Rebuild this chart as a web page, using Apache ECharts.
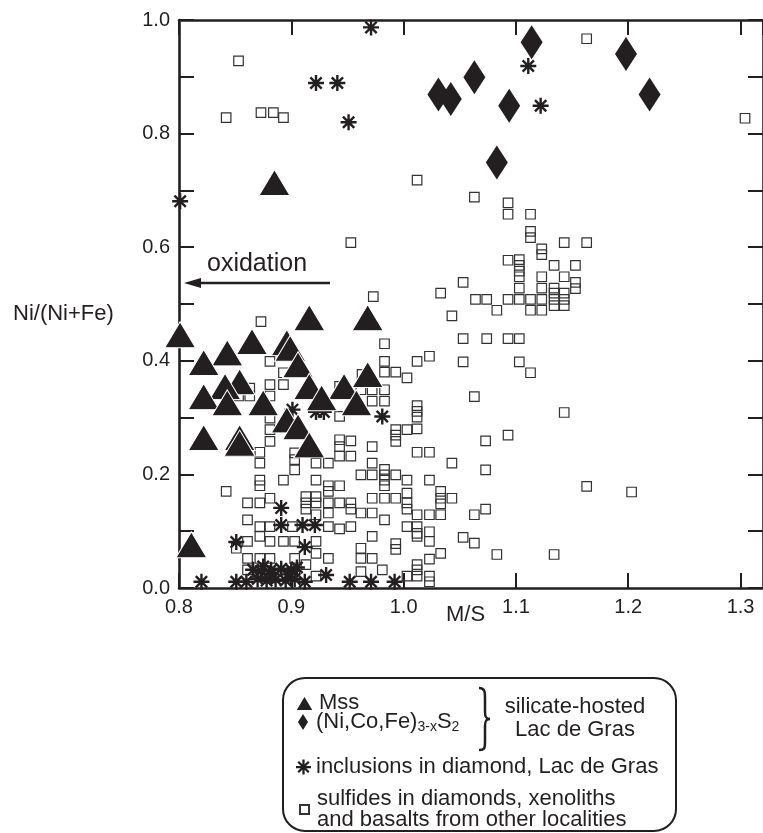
<!DOCTYPE html>
<html>
<head>
<meta charset="utf-8">
<script src="https://cdn.jsdelivr.net/npm/echarts@6/dist/echarts.min.js"></script>
<style>html,body{margin:0;padding:0;background:#fff}#c{width:763px;height:833px}</style>
</head>
<body>
<div id="c"></div>
<script>
var FONT = 'Liberation Sans, Arial, Helvetica, sans-serif';
var INK = '#231f20';

// M/S (x), Ni/(Ni+Fe) (y)
var mssPoints = [
  [0.916,0.476],[0.968,0.476],[0.801,0.446],[0.865,0.434],[0.896,0.432],[0.899,0.422],
  [0.843,0.414],[0.822,0.397],[0.906,0.393],[0.968,0.376],[0.854,0.363],[0.841,0.355],
  [0.916,0.355],[0.947,0.355],[0.822,0.337],[0.927,0.335],[0.843,0.326],[0.875,0.326],
  [0.958,0.326],[0.896,0.296],[0.906,0.284],[0.822,0.265],[0.854,0.265],[0.854,0.255],
  [0.916,0.252],[0.811,0.076],[0.885,0.714]
];
var nicofePoints = [
  [1.031,0.869],[1.042,0.861],[1.063,0.899],[1.114,0.961],[1.094,0.849],
  [1.083,0.749],[1.198,0.940],[1.219,0.869]
];
var inclusionPoints = [
  [0.971,0.987],[0.922,0.889],[0.941,0.889],[0.951,0.820],[0.801,0.681],[1.111,0.919],
  [1.122,0.849],[0.901,0.314],[0.922,0.310],[0.929,0.310],[0.981,0.302],[0.891,0.141],
  [0.891,0.111],[0.910,0.111],[0.921,0.111],[0.851,0.081],[0.912,0.072],[0.931,0.023],
  [0.820,0.011],[0.851,0.011],[0.860,0.011],[0.952,0.011],[0.971,0.011],[0.992,0.011],
  [0.866,0.032],[0.873,0.030],[0.882,0.032],[0.891,0.034],[0.900,0.032],[0.870,0.016],
  [0.878,0.013],[0.886,0.015],[0.895,0.013],[0.903,0.016],[0.912,0.011],[0.882,0.024],
  [0.897,0.024],[0.875,0.038],[0.905,0.036]
];
var sulfidePoints = [
  [0.853,0.928],[0.842,0.828],[0.873,0.837],[0.884,0.837],[0.893,0.828],[1.012,0.718],
  [0.953,0.608],[1.163,0.967],[1.304,0.827],[1.063,0.688],[1.093,0.678],[1.093,0.658],
  [1.113,0.658],[1.113,0.628],[1.113,0.617],[1.143,0.608],[1.163,0.608],[1.123,0.597],
  [1.123,0.587],[1.093,0.577],[1.103,0.578],[1.103,0.568],[1.103,0.558],[1.103,0.548],
  [1.134,0.568],[1.153,0.568],[1.123,0.548],[1.143,0.548],[1.153,0.538],[1.153,0.527],
  [1.053,0.538],[1.103,0.528],[1.123,0.528],[1.134,0.528],[1.134,0.519],[1.134,0.508],
  [1.134,0.497],[1.143,0.519],[1.143,0.508],[1.143,0.497],[1.064,0.508],[1.074,0.508],
  [1.093,0.508],[1.103,0.508],[1.113,0.508],[1.123,0.508],[1.113,0.489],[1.123,0.489],
  [1.083,0.489],[1.053,0.439],[1.074,0.439],[1.093,0.439],[1.103,0.439],[1.033,0.519],
  [0.973,0.513],[1.043,0.479],[1.053,0.398],[1.103,0.398],[1.113,0.379],[1.063,0.337],
  [1.143,0.309],[1.093,0.269],[1.073,0.259],[1.073,0.208],[1.163,0.179],[1.203,0.169],
  [1.063,0.129],[1.073,0.139],[1.053,0.089],[1.063,0.079],[1.083,0.059],[1.134,0.059],
  [0.873,0.469],[0.983,0.430],[1.012,0.399],[1.023,0.408],[0.983,0.399],[0.983,0.380],
  [0.993,0.380],[1.003,0.370],[0.881,0.399],[0.893,0.379],[0.881,0.358],[0.893,0.358],
  [0.881,0.338],[0.972,0.349],[0.983,0.349],[0.972,0.329],[0.983,0.329],[0.962,0.349],
  [0.963,0.376],[0.943,0.355],[1.012,0.321],[1.012,0.311],[1.012,0.301],[1.012,0.280],
  [0.993,0.279],[0.993,0.269],[0.993,0.258],[1.003,0.279],[0.881,0.299],[0.881,0.279],
  [0.881,0.258],[0.943,0.302],[0.943,0.261],[0.943,0.249],[0.953,0.259],[0.922,0.220],
  [0.933,0.220],[0.943,0.232],[0.953,0.232],[0.972,0.249],[1.012,0.239],[1.023,0.239],
  [1.043,0.220],[0.903,0.238],[0.903,0.226],[0.903,0.208],[0.872,0.239],[0.872,0.220],
  [0.972,0.220],[0.983,0.209],[0.962,0.199],[0.972,0.199],[0.983,0.199],[0.993,0.199],
  [0.983,0.190],[0.983,0.180],[1.003,0.190],[1.023,0.190],[0.893,0.190],[0.922,0.190],
  [0.872,0.190],[0.872,0.180],[0.933,0.180],[0.943,0.180],[0.842,0.170],[0.933,0.170],
  [0.881,0.158],[0.861,0.150],[0.872,0.150],[0.913,0.161],[0.913,0.150],[0.913,0.139],
  [0.922,0.161],[0.922,0.150],[0.933,0.150],[0.943,0.150],[0.953,0.150],[0.953,0.139],
  [0.972,0.158],[0.983,0.158],[0.993,0.158],[1.003,0.167],[1.003,0.150],[1.033,0.170],
  [1.033,0.158],[1.033,0.148],[1.043,0.158],[0.962,0.132],[0.972,0.132],[0.983,0.120],
  [1.003,0.139],[1.012,0.129],[1.023,0.129],[1.033,0.129],[0.861,0.120],[0.922,0.129],
  [0.933,0.132],[0.872,0.108],[0.881,0.108],[0.901,0.108],[0.933,0.108],[0.943,0.104],
  [0.953,0.108],[1.003,0.108],[1.012,0.108],[1.012,0.096],[1.023,0.099],[0.861,0.082],
  [0.872,0.091],[0.881,0.082],[0.893,0.082],[0.903,0.082],[0.922,0.082],[0.972,0.091],
  [0.993,0.078],[0.993,0.068],[1.012,0.091],[1.023,0.082],[0.851,0.070],[0.922,0.061],
  [0.962,0.070],[0.962,0.052],[0.972,0.052],[1.033,0.061],[0.861,0.052],[0.872,0.052],
  [0.881,0.052],[0.903,0.052],[0.933,0.052],[1.012,0.041],[1.012,0.032],[1.023,0.051],
  [1.023,0.021],[1.023,0.011],[1.003,0.021],[1.012,0.021],[0.981,0.032],[0.962,0.029],
  [0.861,0.032],[0.913,0.041],[0.922,0.021],[0.872,0.020],[0.881,0.018],[0.893,0.020],
  [0.903,0.021],[0.863,0.352],[0.863,0.338],[0.853,0.338]
];

var seriesNames = ['Mss', '(Ni,Co,Fe)3-xS2', 'inclusions in diamond, Lac de Gras',
  'sulfides in diamonds, xenoliths\nand basalts from other localities'];

var ASTERISK = 'path://M-1.5,-10L1.5,-10L1.5,10L-1.5,10Z M-10,-1.5L10,-1.5L10,1.5L-10,1.5Z ' +
  'M-6.01,-8.13L8.13,6.01L6.01,8.13L-8.13,-6.01Z M-8.13,6.01L6.01,-8.13L8.13,-6.01L-6.01,8.13Z';

var chart = echarts.init(document.getElementById('c'));
var tickInside = { show: true, inside: true, length: 15, lineStyle: { color: INK, width: 2 } };
var axisLine = { show: true, onZero: false, lineStyle: { color: INK, width: 2.6 } };
var labelStyle = { color: INK, fontFamily: FONT, fontSize: 20 };

function legendAt(name, left, top, w, h, extra) {
  var l = {
    data: [name], left: left, top: top, orient: 'vertical', padding: 0,
    itemWidth: w, itemHeight: h, selectedMode: false,
    textStyle: { color: INK, fontFamily: FONT, fontSize: 22, lineHeight: 22 }
  };
  for (var k in extra) l[k] = extra[k];
  return l;
}

var braceStyle = { fill: 'none', stroke: INK, lineWidth: 2.5 };

chart.setOption({
  backgroundColor: '#fff',
  animation: false,
  grid: { left: 179, top: 20, width: 586, height: 568 },
  xAxis: [
    { type: 'value', min: 0.8, max: 1.32, interval: 0.1, position: 'bottom',
      axisLine: axisLine, axisTick: tickInside, splitLine: { show: false },
      axisLabel: Object.assign({ margin: 9, showMaxLabel: false,
        formatter: function (v) { return v.toFixed(1); } }, labelStyle) },
    { type: 'value', min: 0.8, max: 1.32, interval: 0.1, position: 'top',
      axisLine: axisLine, axisTick: tickInside, splitLine: { show: false },
      axisLabel: { show: false } }
  ],
  yAxis: [
    { type: 'value', min: 0, max: 1, interval: 0.1, position: 'left',
      axisLine: axisLine, axisTick: tickInside, splitLine: { show: false },
      axisLabel: Object.assign({ margin: 9,
        formatter: function (v) { return Math.round(v * 10) % 2 === 0 ? v.toFixed(1) : ''; } }, labelStyle) },
    { type: 'value', min: 0, max: 1, interval: 0.1, position: 'right',
      axisLine: axisLine, axisTick: tickInside, splitLine: { show: false },
      axisLabel: { show: false } }
  ],
  legend: [
    legendAt(seriesNames[0], 294, 692, 19, 16, {}),
    legendAt(seriesNames[1], 298, 711, 10, 16, {
      formatter: function () { return '{a|(Ni,Co,Fe)}{s|3-x}{a|S}{s|2}'; },
      textStyle: { color: INK, fontFamily: FONT, fontSize: 22, padding: [0, 0, 0, 3],
        rich: { a: { fontSize: 22, fontFamily: FONT, color: INK },
                s: { fontSize: 14, fontFamily: FONT, color: INK, padding: [10, 0, 0, 0] } } }
    }),
    legendAt(seriesNames[2], 296, 756, 15, 15, {}),
    legendAt(seriesNames[3], 299, 788, 9, 9, {
      textStyle: { color: INK, fontFamily: FONT, fontSize: 22, lineHeight: 21, padding: [0, 0, 0, 3] }
    })
  ],
  series: [
    { name: seriesNames[3], type: 'scatter', data: sulfidePoints, z: 2,
      symbol: 'rect', symbolSize: 9.5,
      itemStyle: { color: 'rgba(255,255,255,0)', borderColor: '#333', borderWidth: 1.2, opacity: 1 } },
    { name: seriesNames[2], type: 'scatter', data: inclusionPoints, z: 3,
      symbol: ASTERISK, symbolSize: 16, itemStyle: { color: INK, opacity: 1 } },
    { name: seriesNames[0], type: 'scatter', data: mssPoints, z: 4,
      symbol: 'triangle', symbolSize: [31, 26],
      itemStyle: { color: INK, borderColor: '#fff', borderWidth: 1, opacity: 1 } },
    { name: seriesNames[1], type: 'scatter', data: nicofePoints, z: 5,
      symbol: 'diamond', symbolSize: [22, 34], itemStyle: { color: INK, opacity: 1 } }
  ],
  graphic: [
    { type: 'text', left: 13, top: 303, style: { text: 'Ni/(Ni+Fe)', fill: INK, font: '22px ' + FONT } },
    { type: 'text', left: 446, top: 604, style: { text: 'M/S', fill: INK, font: '22px ' + FONT } },
    { type: 'text', left: 207, top: 252, style: { text: 'oxidation', fill: INK, font: '25px ' + FONT } },
    { type: 'line', shape: { x1: 198, y1: 283, x2: 330, y2: 283 }, style: { stroke: INK, lineWidth: 2.5 } },
    { type: 'polygon', shape: { points: [[184, 283], [201, 278], [201, 288]] }, style: { fill: INK } },
    { type: 'rect', shape: { x: 283, y: 678, width: 393, height: 153, r: 22 },
      style: { fill: 'none', stroke: INK, lineWidth: 2 }, z: -1 },
    { type: 'bezierCurve', shape: { x1: 479, y1: 688, cpx1: 485, cpy1: 688, cpx2: 485, cpy2: 692, x2: 485, y2: 699 }, style: braceStyle },
    { type: 'line', shape: { x1: 485, y1: 699, x2: 485, y2: 712 }, style: braceStyle },
    { type: 'bezierCurve', shape: { x1: 485, y1: 712, cpx1: 485, cpy1: 717, cpx2: 486, cpy2: 719, x2: 490, y2: 719 }, style: braceStyle },
    { type: 'bezierCurve', shape: { x1: 490, y1: 719, cpx1: 486, cpy1: 719, cpx2: 485, cpy2: 721, x2: 485, y2: 726 }, style: braceStyle },
    { type: 'line', shape: { x1: 485, y1: 726, x2: 485, y2: 741 }, style: braceStyle },
    { type: 'bezierCurve', shape: { x1: 485, y1: 741, cpx1: 485, cpy1: 748, cpx2: 485, cpy2: 750, x2: 479, y2: 750 }, style: braceStyle },
    { type: 'text', x: 575, y: 707, style: { text: 'silicate-hosted', fill: INK, font: '22px ' + FONT, textAlign: 'center', textVerticalAlign: 'middle' } },
    { type: 'text', x: 575, y: 730, style: { text: 'Lac de Gras', fill: INK, font: '22px ' + FONT, textAlign: 'center', textVerticalAlign: 'middle' } }
  ]
});
</script>
</body>
</html>
